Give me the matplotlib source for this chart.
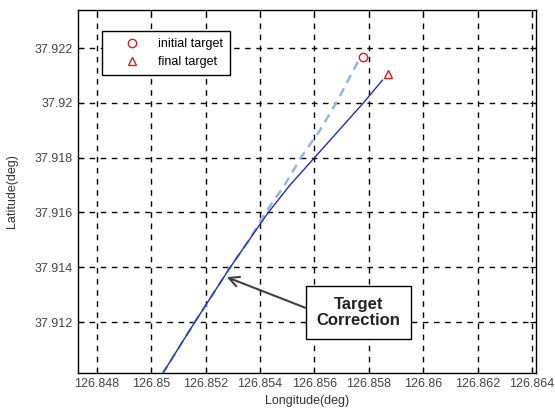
import matplotlib
matplotlib.use("Agg")
import matplotlib.pyplot as plt
from matplotlib.lines import Line2D

plt.rcParams['font.family'] = ['Liberation Sans', 'DejaVu Sans']

# Corrected trajectory (solid)
final_lon = [126.8504, 126.8516, 126.8529, 126.8536, 126.8543, 126.8551, 126.8560, 126.8569, 126.8578, 126.8585]
final_lat = [37.9101, 37.9120, 37.9140, 37.9150, 37.9160, 37.9170, 37.9180, 37.9190, 37.9200, 37.92083]

# Initial trajectory (dashed)
init_lon = [126.8504, 126.8516, 126.8529, 126.8536, 126.8542, 126.8549, 126.8555, 126.8562, 126.8568, 126.8576]
init_lat = [37.9101, 37.9120, 37.9140, 37.9150, 37.9160, 37.9170, 37.9180, 37.9190, 37.9200, 37.9215]

init_target = (126.8578, 37.92168)
final_target = (126.85872, 37.92105)

xticks = [126.848, 126.85, 126.852, 126.854, 126.856, 126.858, 126.86, 126.862, 126.864]
xticklabels = ['126.848', '126.85', '126.852', '126.854', '126.856', '126.858', '126.86', '126.862', '126.864']
yticks = [37.912, 37.914, 37.916, 37.918, 37.92, 37.922]
yticklabels = ['37.912', '37.914', '37.916', '37.918', '37.92', '37.922']

fig = plt.figure(figsize=(5.55, 4.12), dpi=100)
ax = fig.add_axes([0.1405, 0.0947, 0.8253, 0.881])

ax.plot(init_lon, init_lat, linestyle=(0, (3.5, 2.5)), color='#9ab4e0', lw=1.8, zorder=3)
ax.plot(final_lon, final_lat, '-', color='#2a2ab8', lw=1.0, zorder=4)
ax.plot(*init_target, 'o', mfc='none', mec='#d02020', ms=6, mew=1.0, zorder=5)
ax.plot(*final_target, '^', mfc='none', mec='#d02020', ms=6, mew=1.0, zorder=5)

ax.set_xlim(126.8473, 126.86415)
ax.set_ylim(37.91014, 37.92339)
ax.set_xticks(xticks)
ax.set_xticklabels(xticklabels)
ax.set_yticks(yticks)
ax.set_yticklabels(yticklabels)
ax.tick_params(direction='in', top=True, right=True, labelsize=9, colors='black',
               labelcolor='#444444', length=4)
ax.grid(True, color='black', linestyle=(0, (4, 4)), lw=1.0)
for s in ax.spines.values():
    s.set_linewidth(1.0)

ax.set_xlabel('Longitude(deg)', fontsize=9, color='#333333', labelpad=4)
ax.set_ylabel('Latitude(deg)', fontsize=9, color='#333333', labelpad=12)

handles = [
    Line2D([], [], marker='o', ls='none', mfc='none', mec='#d02020', ms=6),
    Line2D([], [], marker='^', ls='none', mfc='none', mec='#d02020', ms=6),
]
leg = ax.legend(handles, ['initial target', 'final target'], loc='upper left',
                bbox_to_anchor=(0.052, 0.942), borderaxespad=0, fancybox=False,
                framealpha=1, edgecolor='black', fontsize=9, handletextpad=0.15,
                borderpad=0.55, labelspacing=0.5, handlelength=3.8)
leg.get_frame().set_linewidth(1.0)

ax.annotate('Target\nCorrection', xy=(126.85277, 37.91364), xytext=(126.85762, 37.91236),
            ha='center', va='center', fontsize=12, fontweight='bold', color='#222222',
            linespacing=1.1,
            bbox=dict(boxstyle='square,pad=0.65', fc='white', ec='black', lw=1.0),
            arrowprops=dict(arrowstyle='->', color='#404040', lw=1.5, relpos=(0, 0.5),
                            mutation_scale=18, shrinkA=0, shrinkB=0),
            zorder=6)

fig.savefig('out.png', dpi=100)
